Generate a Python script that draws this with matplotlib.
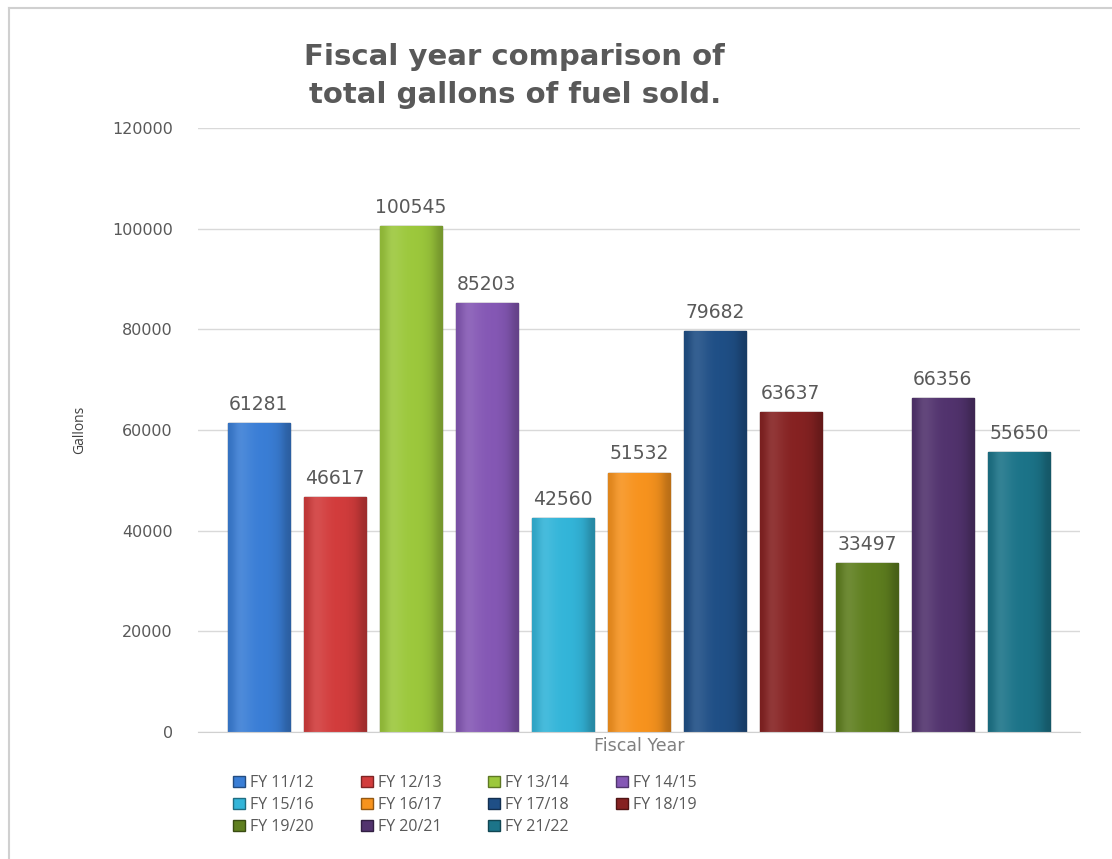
import matplotlib.pyplot as plt
import matplotlib.colors as mcolors
from matplotlib.lines import Line2D
from matplotlib.patches import Patch
import numpy as np

plt.rcParams['font.family'] = ['DejaVu Sans']

years = ['FY 11/12', 'FY 12/13', 'FY 13/14', 'FY 14/15', 'FY 15/16', 'FY 16/17',
         'FY 17/18', 'FY 18/19', 'FY 19/20', 'FY 20/21', 'FY 21/22']
gallons = [61281, 46617, 100545, 85203, 42560, 51532, 79682, 63637, 33497, 66356, 55650]
colors = ['#3a7ed6', '#d23c3c', '#9cc83c', '#8558b5', '#33b5d9', '#f7931e',
          '#1f4f86', '#862222', '#5f7f1f', '#52336e', '#1c7489']

grey = '#595959'

fig = plt.figure(figsize=(11.12, 8.59), dpi=100)
ax = fig.add_axes([0.178, 0.148, 0.793, 0.703])

x = np.arange(len(years))
width = 0.82


def shade(c, f):
    r, g, b = mcolors.to_rgb(c)
    if f >= 0:
        return (r + (1 - r) * f, g + (1 - g) * f, b + (1 - b) * f)
    return (r * (1 + f), g * (1 + f), b * (1 + f))


bars = ax.bar(x, gallons, width=width, color=colors, zorder=2)
for b, c in zip(bars, colors):
    b.set_edgecolor(shade(c, -0.5))
    b.set_linewidth(1.0)
    # soft horizontal shading to mimic the bevelled Excel bars
    prof = np.array([-0.1, 0.12, 0.08, 0.03, 0.0, 0.0, -0.03, -0.08, -0.25])
    grad = np.array([[shade(c, f) for f in prof]])
    im = ax.imshow(grad, extent=[b.get_x(), b.get_x() + b.get_width(), 0, b.get_height()],
                   aspect='auto', interpolation='bicubic', zorder=2.1)
    im.set_clip_path(b)
    top = b.get_height()
    ax.text(b.get_x() + b.get_width() / 2, top + 1800, f'{top}', ha='center', va='bottom',
            fontsize=13.5, color=grey)

ax.set_xlim(-0.8, 10.8)
ax.set_ylim(0, 120000)
ax.set_yticks(range(0, 120001, 20000))
ax.set_xticks([])
ax.tick_params(axis='y', length=0, pad=18, labelsize=11.5, labelcolor=grey)
ax.grid(axis='y', color='#d9d9d9', linewidth=1, zorder=0)
for s in ['top', 'right', 'left']:
    ax.spines[s].set_visible(False)
ax.spines['bottom'].set_color('#d0d0d0')
ax.set_ylabel('Gallons', fontsize=10, color='#404040', labelpad=18,
              family=['Open Sans', 'DejaVu Sans'])
ax.set_xlabel('Fiscal Year', fontsize=12.5, color='#808080', labelpad=4)

fig.text(0.463, 0.912, 'Fiscal year comparison of\ntotal gallons of fuel sold.',
         ha='center', va='center', fontsize=21, fontweight='bold', color=grey,
         linespacing=1.45)

# row-major legend order like the original (matplotlib fills columns first)
order = [0, 4, 8, 1, 5, 9, 2, 6, 10, 3, 7]
handles = [Patch(facecolor=colors[i], edgecolor=shade(colors[i], -0.4)) for i in order]
labels = [years[i] for i in order]
leg = fig.legend(handles, labels, loc='upper left', bbox_to_anchor=(0.197, 0.1145),
                 ncol=4, frameon=False, handlelength=0.75, handleheight=0.75,
                 handletextpad=0.3, columnspacing=2.95, labelspacing=0.38,
                 labelcolor=grey, prop={'family': ['Open Sans', 'DejaVu Sans'], 'size': 11.5})

# chart frame
fig.add_artist(Line2D([9 / 1112, 9 / 1112], [0, 1 - 8 / 859], color='#d0d0d0', lw=1.5,
                      transform=fig.transFigure))
fig.add_artist(Line2D([9 / 1112, 1], [1 - 8 / 859, 1 - 8 / 859], color='#d0d0d0', lw=1.5,
                      transform=fig.transFigure))

fig.savefig('out.png', dpi=100)
